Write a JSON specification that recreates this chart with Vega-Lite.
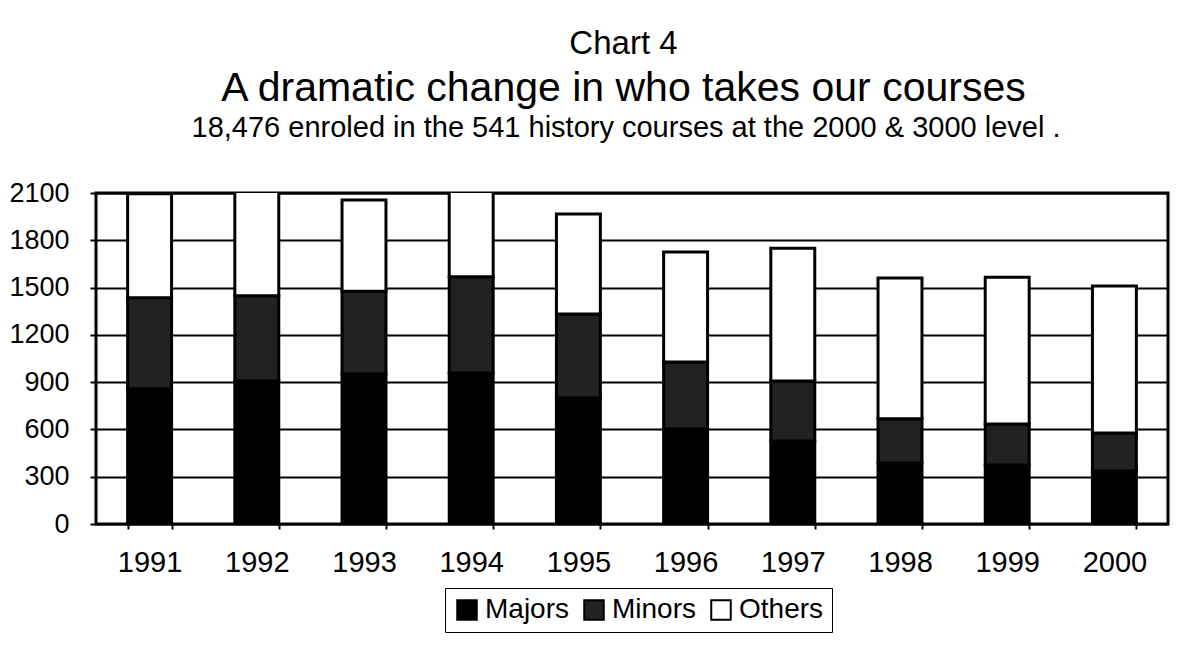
{
  "$schema": "https://vega.github.io/schema/vega-lite/v6.json",
  "background": "white",
  "padding": {"left": 7, "top": 27, "right": 5, "bottom": 5},
  "title": {
    "text": "Chart 4",
    "subtitle": "A dramatic change in who takes our courses",
    "fontSize": 33,
    "subtitleFontSize": 41,
    "font": "Liberation Sans",
    "subtitleFont": "Liberation Sans",
    "fontWeight": "normal",
    "subtitleFontWeight": "normal",
    "color": "black",
    "subtitleColor": "black",
    "anchor": "middle",
    "subtitlePadding": 8,
    "offset": 4,
    "dx": 35
  },
  "vconcat": [
    {
      "width": 1072,
      "height": 331,
      "title": {
        "text": "18,476 enroled in the 541 history courses at the 2000 & 3000 level .",
        "fontSize": 29,
        "font": "Liberation Sans",
        "fontWeight": "normal",
        "color": "black",
        "anchor": "middle",
        "frame": "group",
        "offset": 36,
        "dx": -6
      },
      "data": {
        "values": [
          {"year": "1991", "group": "Majors", "order": 1, "count": 858},
          {"year": "1991", "group": "Minors", "order": 2, "count": 577},
          {"year": "1991", "group": "Others", "order": 3, "count": 660},
          {"year": "1992", "group": "Majors", "order": 1, "count": 908},
          {"year": "1992", "group": "Minors", "order": 2, "count": 540},
          {"year": "1992", "group": "Others", "order": 3, "count": 682},
          {"year": "1993", "group": "Majors", "order": 1, "count": 952},
          {"year": "1993", "group": "Minors", "order": 2, "count": 525},
          {"year": "1993", "group": "Others", "order": 3, "count": 578},
          {"year": "1994", "group": "Majors", "order": 1, "count": 958},
          {"year": "1994", "group": "Minors", "order": 2, "count": 610},
          {"year": "1994", "group": "Others", "order": 3, "count": 550},
          {"year": "1995", "group": "Majors", "order": 1, "count": 800},
          {"year": "1995", "group": "Minors", "order": 2, "count": 533},
          {"year": "1995", "group": "Others", "order": 3, "count": 633},
          {"year": "1996", "group": "Majors", "order": 1, "count": 603},
          {"year": "1996", "group": "Minors", "order": 2, "count": 425},
          {"year": "1996", "group": "Others", "order": 3, "count": 697},
          {"year": "1997", "group": "Majors", "order": 1, "count": 527},
          {"year": "1997", "group": "Minors", "order": 2, "count": 380},
          {"year": "1997", "group": "Others", "order": 3, "count": 843},
          {"year": "1998", "group": "Majors", "order": 1, "count": 387},
          {"year": "1998", "group": "Minors", "order": 2, "count": 280},
          {"year": "1998", "group": "Others", "order": 3, "count": 893},
          {"year": "1999", "group": "Majors", "order": 1, "count": 375},
          {"year": "1999", "group": "Minors", "order": 2, "count": 260},
          {"year": "1999", "group": "Others", "order": 3, "count": 931},
          {"year": "2000", "group": "Majors", "order": 1, "count": 337},
          {"year": "2000", "group": "Minors", "order": 2, "count": 241},
          {"year": "2000", "group": "Others", "order": 3, "count": 932}
        ]
      },
      "mark": {"type": "bar", "stroke": "black", "strokeWidth": 3, "strokeJoin": "miter", "clip": true},
      "encoding": {
        "x": {
          "field": "year",
          "type": "ordinal",
          "scale": {"paddingInner": 0.59, "paddingOuter": 0.295},
          "axis": {
            "title": null,
            "labelAngle": 0,
            "labelFontSize": 29,
            "labelFont": "Liberation Sans",
            "labelColor": "black",
            "labelPadding": 19,
            "domain": false,
            "tickBand": "extent",
            "tickSize": 5,
            "tickWidth": 2,
            "tickColor": "black"
          }
        },
        "y": {
          "field": "count",
          "type": "quantitative",
          "stack": "zero",
          "scale": {"domain": [0, 2100], "nice": false},
          "axis": {
            "title": null,
            "values": [0, 300, 600, 900, 1200, 1500, 1800, 2100],
            "format": "d",
            "labelFontSize": 27,
            "labelFont": "Liberation Sans",
            "labelColor": "black",
            "labelPadding": 21,
            "domain": false,
            "grid": true,
            "gridColor": "black",
            "gridWidth": 2,
            "gridOpacity": 1,
            "tickSize": 6,
            "tickWidth": 2,
            "tickColor": "black"
          }
        },
        "color": {
          "field": "group",
          "type": "nominal",
          "scale": {"domain": ["Majors", "Minors", "Others"], "range": ["#000000", "#222222", "#ffffff"]},
          "legend": {
            "title": null,
            "orient": "none",
            "legendX": 349,
            "legendY": 395,
            "direction": "horizontal",
            "labelFontSize": 28,
            "labelFont": "Liberation Sans",
            "labelColor": "black",
            "symbolType": "square",
            "symbolSize": 380,
            "symbolStrokeColor": "black",
            "symbolStrokeWidth": 2,
            "symbolOpacity": 1,
            "strokeColor": "black",
            "padding": 8,
            "columnPadding": 10,
            "labelOffset": 4
          }
        },
        "order": {"field": "order", "type": "quantitative"}
      }
    }
  ],
  "config": {
    "view": {"stroke": "black", "strokeWidth": 3},
    "axis": {"gridDash": []}
  }
}
